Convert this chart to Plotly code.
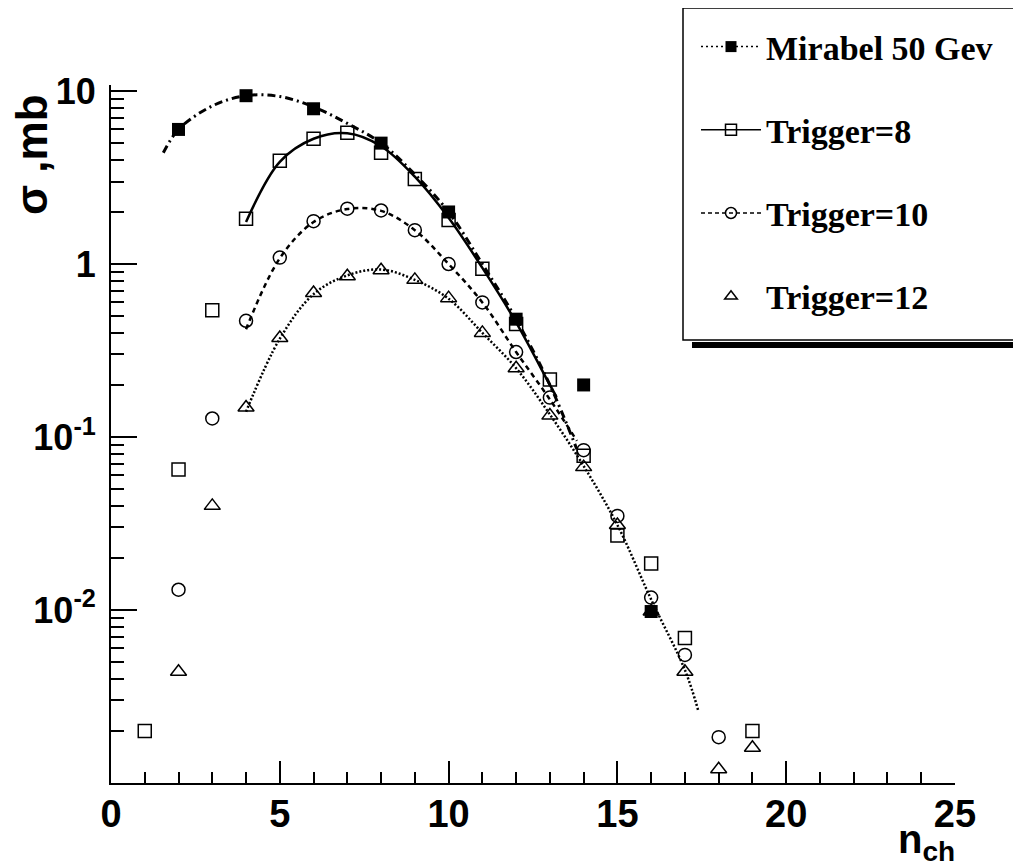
import plotly.graph_objects as go

mirabel_x = [2, 4, 6, 8, 10, 12, 14, 16]
mirabel_y = [6.0, 9.4, 7.9, 5.0, 2.0, 0.48, 0.20, 0.0098]

trig8_x = [1, 2, 3, 4, 5, 6, 7, 8, 9, 10, 11, 12, 13, 14, 15, 16, 17, 19]
trig8_y = [0.0020, 0.065, 0.54, 1.83, 3.96, 5.3, 5.75, 4.4, 3.1, 1.8, 0.94,
           0.45, 0.215, 0.078, 0.027, 0.0186, 0.0069, 0.0020]

trig10_x = [2, 3, 4, 5, 6, 7, 8, 9, 10, 11, 12, 13, 14, 15, 16, 17, 18]
trig10_y = [0.0131, 0.128, 0.47, 1.09, 1.77, 2.09, 2.04, 1.57, 1.0, 0.60,
            0.31, 0.169, 0.084, 0.035, 0.0118, 0.0055, 0.00184]

trig12_x = [2, 3, 4, 5, 6, 7, 8, 9, 10, 11, 12, 13, 14, 15, 16, 17, 18, 19]
trig12_y = [0.0044, 0.040, 0.148, 0.374, 0.68, 0.85, 0.92, 0.81, 0.635, 0.40,
            0.25, 0.133, 0.067, 0.031, 0.0098, 0.0044, 0.0012, 0.0016]

# fitted curves (sampled off the figure)
mirabel_fit_x = [1.55, 2, 3, 4, 5, 6, 7, 8, 9, 10, 11, 12, 13, 13.8]
mirabel_fit_y = [4.4, 6.0, 8.2, 9.4, 9.3, 8.1, 6.5, 5.0, 3.3, 2.0, 1.0, 0.48, 0.2, 0.085]

trig8_fit_x = [4, 5, 6, 7, 8, 9, 10, 11, 12, 13, 13.2]
trig8_fit_y = [1.75, 3.9, 5.3, 5.7, 4.8, 3.2, 1.85, 0.95, 0.46, 0.2, 0.17]

trig10_fit_x = [4, 5, 6, 7, 8, 9, 10, 11, 12, 13, 13.8]
trig10_fit_y = [0.42, 1.08, 1.75, 2.08, 2.03, 1.57, 1.0, 0.6, 0.31, 0.165, 0.095]

trig12_fit_x = [4, 5, 6, 7, 8, 9, 10, 11, 12, 13, 14, 15, 16, 17, 17.4]
trig12_fit_y = [0.14, 0.37, 0.67, 0.86, 0.93, 0.81, 0.63, 0.40, 0.25, 0.135,
                0.068, 0.031, 0.0115, 0.0045, 0.0026]

y_ticks = [0.01, 0.1, 1, 10]
y_ticktext = ["10<sup>-2</sup>", "10<sup>-1</sup>", "1", "10"]
x_ticks = [0, 5, 10, 15, 20, 25]

# page body has an 8px margin, so the figure starts at (8, 8) on screen
OFF = 8
W, H = 1021 - OFF, 868 - OFF
L, R, T, B = 111 - OFF, 66, 85 - OFF, 85

def px(x):
    # screen pixel -> paper x
    return (x - OFF - L) / (W - L - R)

def py(y):
    # screen pixel -> paper y
    return (H - B - (y - OFF)) / (H - T - B)

SANS = "Liberation Sans, Arial, sans-serif"

fig = go.Figure()

# curves
fig.add_trace(go.Scatter(x=mirabel_fit_x, y=mirabel_fit_y, mode="lines", line_shape="spline",
                         line=dict(color="black", width=3, dash="8px,4px,2px,4px"), showlegend=False))
fig.add_trace(go.Scatter(x=trig8_fit_x, y=trig8_fit_y, mode="lines", line_shape="spline",
                         line=dict(color="black", width=2.5), showlegend=False))
fig.add_trace(go.Scatter(x=trig10_fit_x, y=trig10_fit_y, mode="lines", line_shape="spline",
                         line=dict(color="black", width=2.5, dash="5px,4px"), showlegend=False))
fig.add_trace(go.Scatter(x=trig12_fit_x, y=trig12_fit_y, mode="lines", line_shape="spline",
                         line=dict(color="black", width=2.5, dash="2px,2px"), showlegend=False))

# points
fig.add_trace(go.Scatter(x=trig8_x, y=trig8_y, mode="markers", showlegend=False,
                         marker=dict(symbol="square-open", size=13, color="black", line=dict(width=1.5))))
fig.add_trace(go.Scatter(x=trig10_x, y=trig10_y, mode="markers", showlegend=False,
                         marker=dict(symbol="circle-open", size=13, color="black", line=dict(width=1.5))))
fig.add_trace(go.Scatter(x=trig12_x, y=trig12_y, mode="markers", showlegend=False,
                         marker=dict(symbol="triangle-up-open", size=14, color="black", line=dict(width=1.5))))
fig.add_trace(go.Scatter(x=mirabel_x, y=mirabel_y, mode="markers", showlegend=False,
                         marker=dict(symbol="square", size=13, color="black")))

# legend entries
fig.add_trace(go.Scatter(x=[None], y=[None], mode="lines+markers", name="Mirabel 50 Gev", legendgroup="a",
                         line=dict(color="black", width=1.5, dash="2px,3px"),
                         marker=dict(symbol="square", size=11, color="black")))
fig.add_trace(go.Scatter(x=[None], y=[None], mode="lines+markers", name="Trigger=8", legendgroup="b",
                         line=dict(color="black", width=1.5),
                         marker=dict(symbol="square-open", size=11, color="black", line=dict(width=1.5))))
fig.add_trace(go.Scatter(x=[None], y=[None], mode="lines+markers", name="Trigger=10", legendgroup="c",
                         line=dict(color="black", width=1.5, dash="4px,3px"),
                         marker=dict(symbol="circle-open", size=11, color="black", line=dict(width=1.5))))
fig.add_trace(go.Scatter(x=[None], y=[None], mode="markers", name="Trigger=12", legendgroup="d",
                         marker=dict(symbol="triangle-up-open", size=11, color="black", line=dict(width=1.5))))

minor_y = [m * 10 ** e for e in (-3, -2, -1, 0) for m in range(2, 10)]

fig.update_layout(
    width=W, height=H,
    margin=dict(l=L, r=R, t=T, b=B, autoexpand=False),
    plot_bgcolor="white", paper_bgcolor="white",
    font=dict(family=SANS, color="black"),
    xaxis=dict(range=[0, 25], tickvals=x_ticks, ticks="inside", ticklen=22, tickwidth=1.5,
               tickcolor="black", showline=True, linecolor="black", linewidth=2,
               showgrid=False, zeroline=False, automargin=False, ticklabelstandoff=-4,
               tickfont=dict(family=SANS, size=38, weight="bold"),
               minor=dict(dtick=1, ticks="inside", ticklen=11, tickwidth=1.5, tickcolor="black")),
    yaxis=dict(type="log", range=[-3, 1.035], tickvals=y_ticks, ticktext=y_ticktext,
               ticks="inside", ticklen=26, tickwidth=1.5, tickcolor="black",
               showline=True, linecolor="black", linewidth=2, showgrid=False, zeroline=False,
               automargin=False, ticklabelstandoff=6,
               tickfont=dict(family=SANS, size=36, weight="bold"),
               minor=dict(tickvals=minor_y, ticks="inside", ticklen=13, tickwidth=1.5, tickcolor="black")),
    legend=dict(x=px(696), y=py(18), xanchor="left", yanchor="top", itemwidth=60,
                bgcolor="rgba(0,0,0,0)", borderwidth=0, tracegroupgap=36,
                font=dict(family="Liberation Serif, Times New Roman, serif", size=34, weight="bold")),
    shapes=[
        dict(type="rect", xref="paper", yref="paper", x0=px(683), x1=px(1040), y0=py(340), y1=py(8),
             line=dict(color="black", width=1.5), fillcolor="white", layer="below"),
        dict(type="rect", xref="paper", yref="paper", x0=px(692), x1=px(1040), y0=py(348), y1=py(342),
             line=dict(width=0), fillcolor="black"),
    ],
    annotations=[
        dict(text="σ ,mb", xref="paper", yref="paper", x=px(31), y=py(155), textangle=-90,
             xanchor="center", yanchor="middle",
             showarrow=False, font=dict(family=SANS, size=44, weight="bold")),
        dict(text="n<sub>ch</sub>", xref="paper", yref="paper", x=px(957), y=py(842),
             xanchor="right", yanchor="middle", showarrow=False,
             font=dict(family=SANS, size=40, weight="bold")),
    ],
)

fig.write_html("out.html")
